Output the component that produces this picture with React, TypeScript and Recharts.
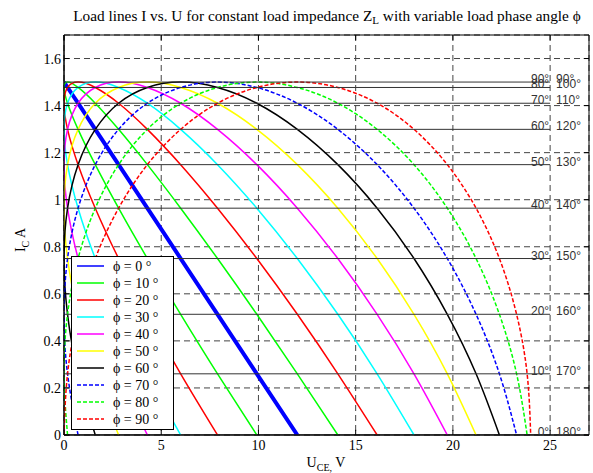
import React from 'react';
import { LineChart, Line, XAxis, YAxis, CartesianGrid, ReferenceArea, ReferenceLine } from 'recharts';

// Collector current I_C (A) at each sample of the curves (shared by all curves)
const I_VALUES = [0, 0.26, 0.513, 0.75, 0.964, 1.149, 1.299, 1.41, 1.477, 1.5, 1.477, 1.41, 1.299, 1.149, 0.964, 0.75, 0.513, 0.26, 0];

// Voltage U_CE (V) along each load line
const U_PHI_0 = [12, 9.917, 7.896, 6, 4.287, 2.808, 1.608, 0.724, 0.182, 0, 0.182, 0.724, 1.608, 2.808, 4.287, 6, 7.896, 9.917, 12];
const U_PHI_10 = [9.917, 7.896, 6, 4.287, 2.808, 1.608, 0.724, 0.182, 0, 0.182, 0.724, 1.608, 2.808, 4.287, 6, 7.896, 9.917, 12, 14.083];
const U_PHI_20 = [7.896, 6, 4.287, 2.808, 1.608, 0.724, 0.182, 0, 0.182, 0.724, 1.608, 2.808, 4.287, 6, 7.896, 9.917, 12, 14.083, 16.104];
const U_PHI_30 = [6, 4.287, 2.808, 1.608, 0.724, 0.182, 0, 0.182, 0.724, 1.608, 2.808, 4.287, 6, 7.896, 9.917, 12, 14.083, 16.104, 18];
const U_PHI_40 = [4.287, 2.808, 1.608, 0.724, 0.182, 0, 0.182, 0.724, 1.608, 2.808, 4.287, 6, 7.896, 9.917, 12, 14.083, 16.104, 18, 19.713];
const U_PHI_50 = [2.808, 1.608, 0.724, 0.182, 0, 0.182, 0.724, 1.608, 2.808, 4.287, 6, 7.896, 9.917, 12, 14.083, 16.104, 18, 19.713, 21.192];
const U_PHI_60 = [1.608, 0.724, 0.182, 0, 0.182, 0.724, 1.608, 2.808, 4.287, 6, 7.896, 9.917, 12, 14.083, 16.104, 18, 19.713, 21.192, 22.392];
const U_PHI_70 = [0.724, 0.182, 0, 0.182, 0.724, 1.608, 2.808, 4.287, 6, 7.896, 9.917, 12, 14.083, 16.104, 18, 19.713, 21.192, 22.392, 23.276];
const U_PHI_80 = [0.182, 0, 0.182, 0.724, 1.608, 2.808, 4.287, 6, 7.896, 9.917, 12, 14.083, 16.104, 18, 19.713, 21.192, 22.392, 23.276, 23.818];
const U_PHI_90 = [0, 0.182, 0.724, 1.608, 2.808, 4.287, 6, 7.896, 9.917, 12, 14.083, 16.104, 18, 19.713, 21.192, 22.392, 23.276, 23.818, 24];

const SERIES_NAMES = ['ϕ = 0 °', 'ϕ = 10 °', 'ϕ = 20 °', 'ϕ = 30 °', 'ϕ = 40 °', 'ϕ = 50 °', 'ϕ = 60 °', 'ϕ = 70 °', 'ϕ = 80 °', 'ϕ = 90 °'];
const SERIES_U = [U_PHI_0, U_PHI_10, U_PHI_20, U_PHI_30, U_PHI_40, U_PHI_50, U_PHI_60, U_PHI_70, U_PHI_80, U_PHI_90];
const SERIES_COLORS = ['#0000ff', '#00ff00', '#ff0000', '#00ffff', '#ff00ff', '#ffff00', '#000000', '#0000ff', '#00ff00', '#ff0000'];
const SERIES_DASHED = [false, false, false, false, false, false, false, true, true, true];

// Horizontal reference levels (I = const) with angle labels
const LEVEL_I = [1.5, 1.477, 1.41, 1.299, 1.149, 0.964, 0.75, 0.513, 0.26, 0];
const LEVEL_LEFT_LABELS = ['90°', '80°', '70°', '60°', '50°', '40°', '30°', '20°', '10°', '0°'];
const LEVEL_RIGHT_LABELS = ['90°', '100°', '110°', '120°', '130°', '140°', '150°', '160°', '170°', '180°'];
const LEVEL_U_START = 0;
const LEVEL_U_END = 25;

const X_TICKS = [0, 5, 10, 15, 20, 25];
const Y_TICKS = [0, 0.2, 0.4, 0.6, 0.8, 1, 1.2, 1.4, 1.6];
const X_DOMAIN: [number, number] = [0, 27];
const Y_DOMAIN: [number, number] = [0, 1.7];
const X_TICK_LEN = 0.27; // inward tick length in x units
const Y_TICK_LEN = 0.022; // inward tick length in y units

const SERIF = 'Liberation Serif';
const SANS = 'Liberation Sans';

const seriesData = SERIES_U.map((us) => us.map((u, k) => ({ u, i: I_VALUES[k] })));
const levelData = LEVEL_I.map((i) => [{ u: LEVEL_U_START, i }, { u: LEVEL_U_END, i }]);

const makeLevelLabel = (idx: number) => (props: any) => {
  if (props.index !== 1) return null;
  const { x, y } = props;
  return (
    <g key={`lvl-${idx}`}>
      <text x={x - 1} y={y + 1} textAnchor="end" fontFamily={SANS} fontSize={12} fill="#333">
        {LEVEL_LEFT_LABELS[idx]}
      </text>
      <text x={x + 6} y={y + 1} textAnchor="start" fontFamily={SANS} fontSize={12} fill="#333">
        {LEVEL_RIGHT_LABELS[idx]}
      </text>
    </g>
  );
};

const XTick = (props: any) => {
  const { x, y, payload } = props;
  return (
    <text x={x} y={y + 15} textAnchor="middle" fontFamily={SERIF} fontSize={14} fill="#000">
      {String(payload.value)}
    </text>
  );
};

const YTick = (props: any) => {
  const { x, y, payload } = props;
  return (
    <text x={x + 1} y={y + 5} textAnchor="end" fontFamily={SERIF} fontSize={14} fill="#000">
      {String(payload.value)}
    </text>
  );
};

export default function App() {
  return (
    <div style={{ position: 'absolute', left: 0, top: 0, width: 593, height: 473, background: '#fff' }}>
      <LineChart width={593} height={473} margin={{ top: 35, right: 4, bottom: 8, left: 4 }}>
        <CartesianGrid stroke="#444" strokeDasharray="6 4" strokeWidth={1} />
        <XAxis
          type="number"
          dataKey="u"
          domain={X_DOMAIN}
          ticks={X_TICKS}
          allowDataOverflow
          height={30}
          tickLine={false}
          tickSize={0}
          tickMargin={0}
          interval={0}
          axisLine={{ stroke: '#000' }}
          tick={<XTick />}
        />
        <YAxis
          type="number"
          dataKey="i"
          domain={Y_DOMAIN}
          ticks={Y_TICKS}
          allowDataOverflow
          width={60}
          tickLine={false}
          tickSize={0}
          tickMargin={4}
          interval={0}
          axisLine={{ stroke: '#000' }}
          tick={<YTick />}
        />
        {seriesData.map((d, s) => (
          <Line
            key={`s-${s}`}
            data={d}
            dataKey="i"
            type={s === 0 ? 'linear' : 'natural'}
            stroke={SERIES_COLORS[s]}
            strokeWidth={s === 0 ? 4 : 1.5}
            strokeDasharray={SERIES_DASHED[s] ? '4 2' : undefined}
            dot={false}
            activeDot={false}
            isAnimationActive={false}
            legendType="none"
          />
        ))}
        {levelData.map((d, k) => (
          <Line
            key={`l-${k}`}
            data={d}
            dataKey="i"
            type="linear"
            stroke="#333"
            strokeWidth={1}
            dot={false}
            activeDot={false}
            isAnimationActive={false}
            legendType="none"
            label={makeLevelLabel(k)}
          />
        ))}
        {X_TICKS.map((t) => (
          <ReferenceLine
            key={`xb-${t}`}
            segment={[{ x: t, y: Y_DOMAIN[0] }, { x: t, y: Y_DOMAIN[0] + Y_TICK_LEN }]}
            stroke="#000"
            ifOverflow="visible"
          />
        ))}
        {X_TICKS.map((t) => (
          <ReferenceLine
            key={`xt-${t}`}
            segment={[{ x: t, y: Y_DOMAIN[1] }, { x: t, y: Y_DOMAIN[1] - Y_TICK_LEN }]}
            stroke="#000"
            ifOverflow="visible"
          />
        ))}
        {Y_TICKS.map((t) => (
          <ReferenceLine
            key={`yl-${t}`}
            segment={[{ x: X_DOMAIN[0], y: t }, { x: X_DOMAIN[0] + X_TICK_LEN, y: t }]}
            stroke="#000"
            ifOverflow="visible"
          />
        ))}
        {Y_TICKS.map((t) => (
          <ReferenceLine
            key={`yr-${t}`}
            segment={[{ x: X_DOMAIN[1], y: t }, { x: X_DOMAIN[1] - X_TICK_LEN, y: t }]}
            stroke="#000"
            ifOverflow="visible"
          />
        ))}
        <ReferenceArea x1={X_DOMAIN[0]} x2={X_DOMAIN[1]} y1={Y_DOMAIN[0]} y2={Y_DOMAIN[1]} fill="none" stroke="#000" strokeWidth={1} ifOverflow="visible" />
      </LineChart>
      <svg width={593} height={473} style={{ position: 'absolute', left: 0, top: 0, pointerEvents: 'none' }}>
        <text x={327} y={21} textAnchor="middle" fontFamily={SERIF} fontSize={15.3} fill="#000">
          Load lines I vs. U for constant load impedance Z
          <tspan fontSize={11} dy={3}>L</tspan>
          <tspan dy={-3}> with variable load phase angle ϕ</tspan>
        </text>
        <text x={326} y={467} textAnchor="middle" fontFamily={SERIF} fontSize={14} fill="#000">
          U<tspan fontSize={10} dy={4}>CE,</tspan>
          <tspan dy={-4}> V</tspan>
        </text>
        <text x={25} y={240} textAnchor="middle" fontFamily={SERIF} fontSize={14} fill="#000" transform="rotate(-90 25 240)">
          I<tspan fontSize={10} dy={4}>C</tspan>
          <tspan dy={-4}> A</tspan>
        </text>
        <g>
          <rect x={71.5} y={256.5} width={102} height={173} fill="#fff" stroke="#000" strokeWidth={1} />
          {SERIES_NAMES.map((name, s) => {
            const cy = 266 + 17 * s;
            return (
              <g key={`lg-${s}`}>
                <line
                  x1={77}
                  x2={104}
                  y1={cy}
                  y2={cy}
                  stroke={SERIES_COLORS[s]}
                  strokeWidth={1.5}
                  strokeDasharray={SERIES_DASHED[s] ? '4 2' : undefined}
                />
                <text x={113} y={cy + 5} fontFamily={SERIF} fontSize={14} fill="#000">
                  {name}
                </text>
              </g>
            );
          })}
        </g>
      </svg>
    </div>
  );
}
